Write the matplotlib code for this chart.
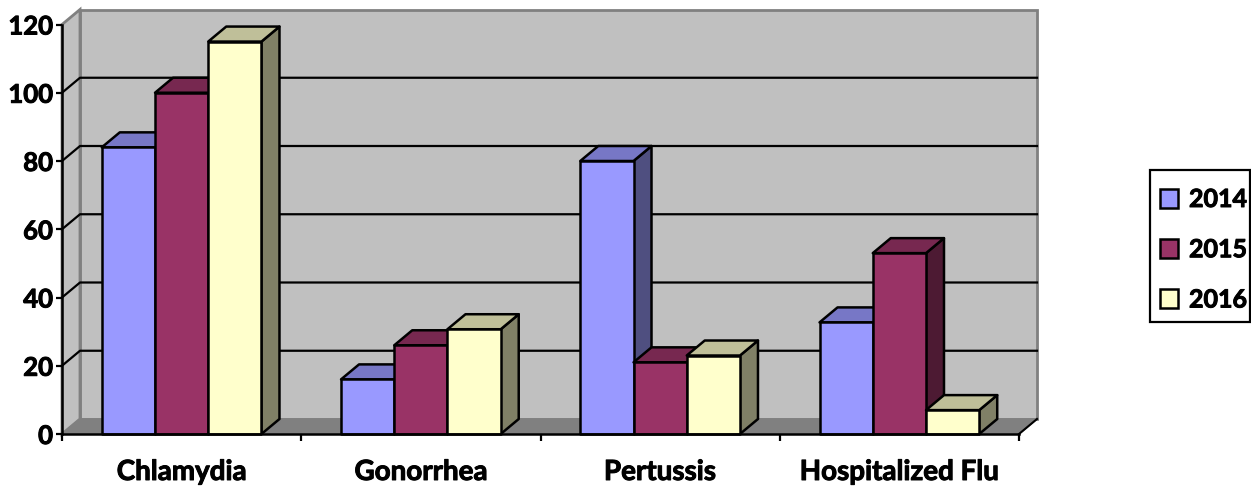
import matplotlib
matplotlib.use("Agg")
import matplotlib.pyplot as plt
from matplotlib.patches import Polygon, Rectangle
import matplotlib.patheffects as pe

plt.rcParams['font.family'] = ['Lato', 'DejaVu Sans']
plt.rcParams['font.weight'] = 'bold'

categories = ['Chlamydia', 'Gonorrhea', 'Pertussis', 'Hospitalized Flu']
years = ['2014', '2015', '2016']
values_2014 = [84, 16, 80, 32.7]
values_2015 = [100, 26, 21, 53]
values_2016 = [115, 30.7, 23, 7]
y_ticks = [0, 20, 40, 60, 80, 100, 120]
colors = ['#9999FF', '#993366', '#FFFFCC']
top_colors = ['#7777C6', '#772850', '#BFBF99']
side_colors = ['#4F4F80', '#4D1A33', '#808066']

W, H = 1251, 487
fig = plt.figure(figsize=(W / 100, H / 100), dpi=100)
ax = fig.add_axes([62 / W, (H - 434) / H, (1019 - 62) / W, (434 - 24.5) / H])
ax.set_xlim(0, 4)
ax.set_ylim(0, 120)
ax.patch.set_alpha(0)

# depth of the fake 3-D box, in data units
dx = 18 / ((1019 - 62) / 4)
dy = 15 / ((434 - 24.5) / 120)
ymax = 120
xmax = 4
wall, floor, edge = '#C0C0C0', '#808080', '#808080'
heavy = [pe.withStroke(linewidth=0.7, foreground='black')]

ax.add_patch(Polygon([(dx, dy), (xmax + dx, dy), (xmax + dx, ymax + dy), (dx, ymax + dy)],
                     fc=wall, ec=edge, lw=2, clip_on=False, zorder=1))
ax.add_patch(Polygon([(0, 0), (dx, dy), (dx, ymax + dy), (0, ymax)],
                     fc=wall, ec=edge, lw=2, clip_on=False, zorder=1))
ax.add_patch(Polygon([(0, 0), (xmax, 0), (xmax + dx, dy), (dx, dy)],
                     fc=floor, ec=edge, lw=1, clip_on=False, zorder=1))
ax.plot([xmax, xmax + dx], [0, dy], color='black', lw=1.5, clip_on=False, zorder=1.5)

for v in y_ticks[1:-1]:
    ax.plot([0, dx, xmax + dx], [v, v + dy, v + dy], color='black', lw=1.6,
            clip_on=False, zorder=1.5)

bar_w = 0.2225
series = [values_2014, values_2015, values_2016]
z = 2.0
for c in range(len(categories)):
    for s in range(3):
        v = series[s][c]
        x0 = c + 0.5 + (s - 1.5) * bar_w
        x1 = x0 + bar_w
        kw = dict(ec='black', lw=1.8, joinstyle='round', clip_on=False, zorder=z)
        ax.add_patch(Polygon([(x1, 0), (x1 + dx, dy), (x1 + dx, v + dy), (x1, v)],
                             fc=side_colors[s], **kw))
        ax.add_patch(Polygon([(x0, v), (x1, v), (x1 + dx, v + dy), (x0 + dx, v + dy)],
                             fc=top_colors[s], **kw))
        ax.add_patch(Rectangle((x0, 0), bar_w, v, fc=colors[s], **kw))
        z += 0.01

for name in ['top', 'right']:
    ax.spines[name].set_visible(False)
for name in ['left', 'bottom']:
    ax.spines[name].set_linewidth(1.8)
    ax.spines[name].set_zorder(5)

ax.set_yticks(y_ticks)
ax.tick_params(axis='y', labelsize=18.5, length=4, width=1.6, pad=2.5)
ax.set_xticks(range(5))
ax.set_xticklabels([])
ax.tick_params(axis='x', which='major', length=5, width=1.6)
ax.set_xticks([c + 0.5 for c in range(4)], minor=True)
ax.set_xticklabels(categories, minor=True, fontsize=20)
ax.tick_params(axis='x', which='minor', length=0, pad=18)
for t in ax.get_yticklabels() + ax.get_xticklabels(minor=True):
    t.set_path_effects(heavy)

fig.add_artist(Rectangle((1150 / W, 1 - 322 / H), 100 / W, 152 / H, fc='white', ec='black',
                         lw=1.6, transform=fig.transFigure))
handles = [Rectangle((0, 0), 1, 1, fc=colors[s], ec='black', lw=1.8) for s in range(3)]
leg = fig.legend(handles, years, loc='upper left',
                 bbox_to_anchor=(1160 / W, 1 - 188 / H), bbox_transform=fig.transFigure,
                 fontsize=18, frameon=False, borderaxespad=0, borderpad=0, labelspacing=1.09,
                 handlelength=0.72, handleheight=0.8, handletextpad=0.44)
for t in leg.get_texts():
    t.set_path_effects(heavy)

fig.savefig('out.png', dpi=100)
